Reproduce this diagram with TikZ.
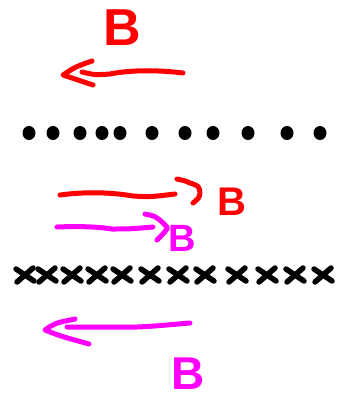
\documentclass[tikz,border=0pt]{standalone}
\usepackage{fontspec}
\newfontfamily\penfont{Liberation Sans}
\usetikzlibrary{calc}
\definecolor{penred}{RGB}{255,0,0}
\definecolor{penpink}{RGB}{255,0,255}

\begin{document}
\begin{tikzpicture}[x=1pt,y=-1pt,
  pen/.style={line width=5pt,line cap=round,line join=round},
  redpen/.style={pen,draw=penred},
  pinkpen/.style={pen,draw=penpink},
  letter/.style={inner sep=0pt,font=\penfont\bfseries\fontsize{#1}{#1}\selectfont}]
  \useasboundingbox (0,0) rectangle (340,401);
  % top: red B, arrow to the left
  \node[letter=52,penred] (topB) at (122,28) {B};
  \draw[redpen] (183,73) .. controls (150,69) and (125,71) .. (110,74) .. controls (95,75) .. (82,72);
  \draw[redpen] (92,61) .. controls (75,67) .. (63,75) .. controls (78,80) .. (93,85);
  % row of dots (charges)
  \foreach \x in {29,53,80,102,120,152,185,213,248,287,320}
    \fill (\x,133) ellipse (6.5 and 7);
  % red arrow to the right, red B
  \draw[redpen] (60,195) .. controls (90,191) and (115,193) .. (133,196) .. controls (150,197) .. (175,194);
  \draw[redpen] (177,179) .. controls (186,181) .. (190,183) .. controls (199,186) .. (200,193) .. controls (199,198) .. (193,203);
  \node[letter=40,penred] (redB) at (232,202) {B};
  % magenta arrow to the right, magenta B
  \draw[pinkpen] (57,227) .. controls (80,226) and (100,227) .. (112,229) .. controls (130,229) .. (153,227);
  \draw[pinkpen] (145,214) .. controls (155,216) .. (162,222) .. controls (168,228) .. (167,229) .. controls (163,234) .. (157,240);
  \node[letter=38,penpink] (pinkB) at (182,238) {B};
  % row of crosses
  \foreach \x in {25,47,72,97,122,150,178,205,237,267,295,323} {
    \draw[pen,line width=5.5pt] (\x-9,269) -- (\x+9,281);
    \draw[pen,line width=5.5pt] (\x-8,282) -- (\x+8,268);
  }
  % bottom: magenta arrow to the left, magenta B
  \draw[pinkpen] (190,323) .. controls (165,325) and (140,328) .. (117,327) .. controls (95,327) .. (67,327);
  \draw[pinkpen] (75,319) .. controls (55,323) .. (45,330) .. controls (60,336) .. (89,344);
  \node[letter=46,penpink] (botB) at (188,374) {B};
\end{tikzpicture}
\end{document}
